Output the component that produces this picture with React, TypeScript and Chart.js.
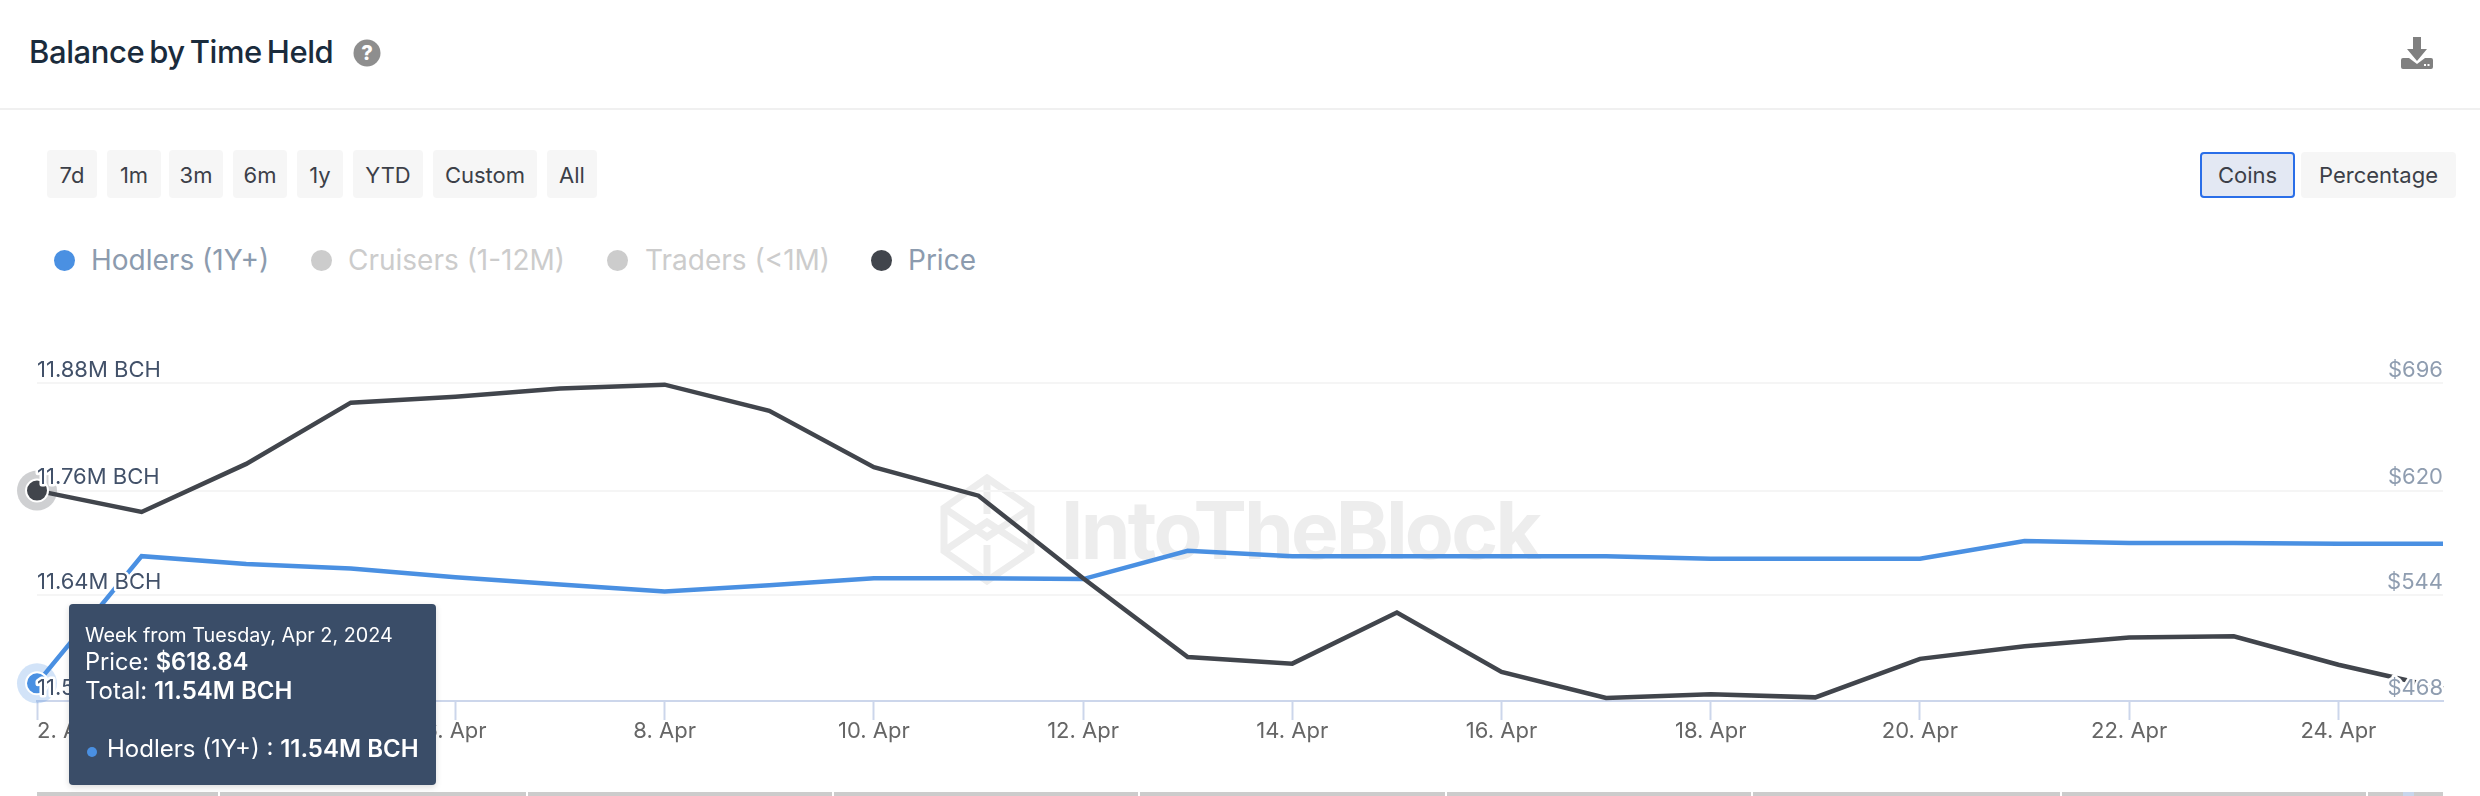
import { Chart, registerables } from 'chart.js';
import { useEffect, useRef } from 'react';

Chart.register(...registerables);

const days = [2, 3, 4, 5, 6, 7, 8, 9, 10, 11, 12, 13, 14, 15, 16, 17, 18, 19, 20, 21, 22, 23, 24, 25];
const hodlers = [11.54, 11.684, 11.675, 11.67, 11.66, 11.652, 11.644, 11.651, 11.659, 11.659, 11.658, 11.69, 11.684, 11.684, 11.684, 11.684, 11.681, 11.681, 11.681, 11.701, 11.699, 11.699, 11.698, 11.698];
const price = [618.84, 603.5, 638, 681.9, 686.2, 692, 694.8, 676.1, 635.6, 615.2, 556, 499.5, 494.8, 531.5, 488.8, 470.2, 472.8, 470.6, 498.2, 507.2, 513.5, 514.4, 494, 477];

const gridValues = [11.52, 11.64, 11.758, 11.88];
const leftLabels = ['11.52M BCH', '11.64M BCH', '11.76M BCH', '11.88M BCH'];
const rightLabels = ['$468', '$544', '$620', '$696'];

const rangeButtons = [
    ['7d', 47, 50], ['1m', 107, 54], ['3m', 169, 54], ['6m', 233, 54],
    ['1y', 297, 46], ['YTD', 353, 70], ['Custom', 433, 104], ['All', 547, 50]
] as const;
const legendItems = [
    ['Hodlers (1Y+)', 64, 91, '#4a90e2', '#8c9bae'],
    ['Cruisers (1-12M)', 321, 348, '#cccccc', '#cccccc'],
    ['Traders (<1M)', 617, 645, '#cccccc', '#cccccc'],
    ['Price', 881, 908, '#41454c', '#8c9bae']
] as const;
const navNotches = [218, 526, 832, 1138, 1445, 1751, 2060, 2366];

const FONT = 'Inter, sans-serif';
const HODLER_BLUE = '#4a90e2';
const PRICE_DARK = '#41454c';

const axisText = {
    id: 'axisText',
    beforeDatasetsDraw(chart: any) {
        const { ctx } = chart;
        ctx.save();
        chart.getSortedVisibleDatasetMetas().forEach((meta: any) => {
            const pt = meta.data[0];
            ctx.beginPath();
            ctx.arc(pt.x, pt.y, 20, 0, Math.PI * 2);
            ctx.fillStyle = meta.dataset.options.borderColor === HODLER_BLUE
                ? 'rgba(74,144,226,0.25)' : 'rgba(64,68,76,0.25)';
            ctx.fill();
        });
        ctx.restore();
    },
    afterDatasetsDraw(chart: any) {
        const { ctx, chartArea, scales } = chart;
        ctx.save();
        ctx.font = `400 22px ${FONT}`;
        ctx.textBaseline = 'alphabetic';
        ctx.lineJoin = 'round';
        ctx.lineWidth = 5;
        ctx.strokeStyle = '#ffffff';
        gridValues.forEach((v, i) => {
            const y = scales.yHodlers.getPixelForValue(v) - 6.5;
            ctx.textAlign = 'left';
            ctx.strokeText(leftLabels[i], chartArea.left, y);
            ctx.fillStyle = '#425169';
            ctx.fillText(leftLabels[i], chartArea.left, y);
            ctx.textAlign = 'right';
            ctx.strokeText(rightLabels[i], chartArea.right, y);
            ctx.fillStyle = '#8f9db0';
            ctx.fillText(rightLabels[i], chartArea.right, y);
        });
        ctx.fillStyle = '#666666';
        scales.x.ticks.forEach((t: any, i: number) => {
            ctx.textAlign = i === 0 ? 'left' : 'center';
            ctx.fillText(`${t.value}. Apr`, scales.x.getPixelForValue(t.value), 738);
        });
        ctx.restore();
    }
};

function BalanceChart() {
    const canvasRef = useRef<HTMLCanvasElement>(null);

    useEffect(() => {
        if (!canvasRef.current) return;
        const highlight = (ctx: any) => (ctx.dataIndex === 0 ? 11 : 0);
        const chart = new Chart(canvasRef.current, {
            type: 'line',
            data: {
                datasets: [
                    {
                        label: 'Hodlers (1Y+)',
                        data: days.map((d, i) => ({ x: d, y: hodlers[i] })),
                        yAxisID: 'yHodlers',
                        borderColor: HODLER_BLUE,
                        backgroundColor: HODLER_BLUE,
                        borderWidth: 4.5,
                        tension: 0,
                        order: 2,
                        clip: false,
                        pointRadius: highlight,
                        pointBorderColor: '#ffffff',
                        pointBorderWidth: 2
                    },
                    {
                        label: 'Price',
                        data: days.map((d, i) => ({ x: d, y: price[i] })),
                        yAxisID: 'yPrice',
                        borderColor: PRICE_DARK,
                        backgroundColor: PRICE_DARK,
                        borderWidth: 4.5,
                        tension: 0,
                        order: 1,
                        clip: false,
                        pointRadius: highlight,
                        pointBorderColor: '#ffffff',
                        pointBorderWidth: 2
                    }
                ]
            },
            options: {
                responsive: false,
                animation: false,
                devicePixelRatio: 1,
                layout: { padding: { left: 37, right: 37, top: 383, bottom: 76 } },
                plugins: { legend: { display: false }, tooltip: { enabled: false } },
                scales: {
                    x: {
                        type: 'linear',
                        min: 2,
                        max: 25,
                        ticks: { display: false, stepSize: 2, includeBounds: false },
                        border: { color: '#ccd6eb', width: 2 },
                        grid: { drawOnChartArea: false, tickLength: 19, tickWidth: 2, tickColor: '#ccd6eb' }
                    },
                    yHodlers: {
                        position: 'left',
                        min: 11.52,
                        max: 11.88,
                        afterBuildTicks: (axis: any) => {
                            axis.ticks = gridValues.map((value) => ({ value }));
                        },
                        ticks: { display: false },
                        border: { display: false },
                        grid: { color: '#f5f5f5', lineWidth: 2, drawTicks: false }
                    },
                    yPrice: { position: 'right', display: false, min: 468, max: 696 }
                }
            },
            plugins: [axisText]
        });
        return () => chart.destroy();
    }, []);

    return <canvas ref={canvasRef} width={2480} height={796} style={{ position: 'absolute', left: 0, top: 0, display: 'block' }} />;
}

function Text({ x, base, size, color, weight = 400, spacing = 0, wordSpacing = 0, children }: any) {
    return (
        <div style={{
            position: 'absolute', left: x, top: base - size, height: size * 1.3, lineHeight: `${size * 1.3}px`,
            fontSize: size, fontWeight: weight, color, letterSpacing: spacing, wordSpacing, whiteSpace: 'nowrap', fontFamily: FONT
        }}>{children}</div>
    );
}

function Button({ x, y, w, h, label, active, shift = 0 }: any) {
    return (
        <div style={{
            position: 'absolute', left: x, top: y, width: w, height: h, boxSizing: 'border-box', borderRadius: 4,
            background: active ? '#e3e8f3' : '#f6f6f6', border: active ? '2px solid #2a6ee8' : 'none',
            color: '#3c3f48', fontFamily: FONT, fontSize: 22, lineHeight: `${(active ? h - 4 : h) + shift}px`, textAlign: 'center'
        }}>{label}</div>
    );
}

export default function App() {
    return (
        <div style={{ position: 'absolute', left: 0, top: 0, width: 2480, height: 796, overflow: 'hidden', background: '#fff' }}>
            <Text x={29} base={63} size={31} color="#1a2b3c" weight={500} spacing={-0.4} wordSpacing={-3}>Balance by Time Held</Text>
            <svg style={{ position: 'absolute', left: 353, top: 39 }} width={28} height={28} viewBox="0 0 28 28">
                <circle cx={14} cy={14} r={13.5} fill="#8e8e8e" />
                <text x={14} y={21} textAnchor="middle" fontFamily={FONT} fontWeight={800} fontSize={20} fill="#fff">?</text>
            </svg>
            <svg style={{ position: 'absolute', left: 2401, top: 37 }} width={32} height={32} viewBox="0 0 32 32">
                <path d="M12 0h8v12h6L16 24 6 12h6z" fill="#808080" />
                <path d="M0 23a2 2 0 0 1 2-2h6l8 6 8-6h6a2 2 0 0 1 2 2v7a2 2 0 0 1-2 2H2a2 2 0 0 1-2-2z" fill="#808080" />
                <rect x={23} y={27} width={2} height={2} fill="#fff" />
                <rect x={26.5} y={27} width={2} height={2} fill="#fff" />
            </svg>
            <div style={{ position: 'absolute', left: 0, top: 108, width: 2480, height: 2, background: '#f0f0f0' }} />

            {rangeButtons.map(([label, x, w]) => <Button key={label} x={x} y={150} w={w} h={48} label={label} shift={2} />)}
            <Button x={2200} y={152} w={95} h={46} label="Coins" active />
            <Button x={2301} y={152} w={155} h={46} label="Percentage" />

            {legendItems.map(([label, dotX, textX, dot, color]) => (
                <div key={label}>
                    <div style={{ position: 'absolute', left: dotX - 10.5, top: 250, width: 21, height: 21, borderRadius: '50%', background: dot }} />
                    <Text x={textX} base={270} size={28} color={color}>{label}</Text>
                </div>
            ))}

            <svg style={{ position: 'absolute', left: 940, top: 474 }} width={95} height={111} viewBox="0 0 95 111" fill="none" stroke="#ededed" strokeWidth={7}>
                <path d="M47 4L91 34V77L47 107L4 77V34Z" />
                <path d="M4 34L47 63L91 34M4 77L47 48L91 77M47 4V40M47 71V107" />
            </svg>
            <Text x={1061} base={558} size={80} color="#ededed" weight={700} spacing={-2.8}>IntoTheBlock</Text>

            <BalanceChart />

            <div style={{ position: 'absolute', left: 37, top: 792, width: 2406, height: 4, background: '#cccccc' }} />
            {navNotches.map((x) => <div key={x} style={{ position: 'absolute', left: x, top: 792, width: 2, height: 4, background: '#fff' }} />)}
            <div style={{ position: 'absolute', left: 2403, top: 792, width: 11, height: 4, background: '#c8d6ec' }} />

            <div style={{ position: 'absolute', left: 69, top: 604, width: 367, height: 181, borderRadius: 4, background: '#3a4d68', boxShadow: '0 2px 6px rgba(0,0,0,0.15)' }}>
                <Text x={16} base={39} size={19.8} color="#ffffff">Week from Tuesday, Apr 2, 2024</Text>
                <Text x={16} base={67} size={23.6} color="#ffffff">Price: <b style={{ fontWeight: 600 }}>$618.84</b></Text>
                <Text x={16} base={95} size={24} color="#ffffff">Total: <b style={{ fontWeight: 600 }}>11.54M BCH</b></Text>
                <div style={{ position: 'absolute', left: 18, top: 143, width: 10, height: 10, borderRadius: '50%', background: HODLER_BLUE }} />
                <Text x={38} base={153} size={24} color="#ffffff">Hodlers (1Y+) : <b style={{ fontWeight: 600 }}>11.54M BCH</b></Text>
            </div>
        </div>
    );
}
